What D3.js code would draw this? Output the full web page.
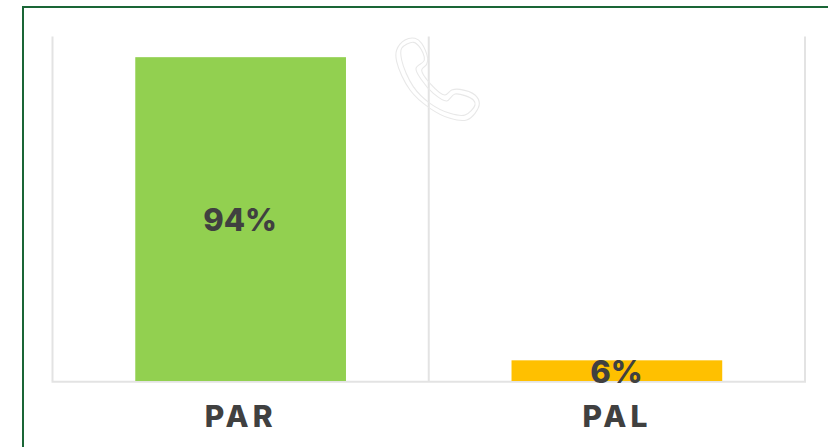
<!DOCTYPE html>
<html>
<head>
<meta charset="utf-8">
<script src="https://cdnjs.cloudflare.com/ajax/libs/d3/7.8.5/d3.min.js"></script>
<style>
html,body{margin:0;padding:0;background:#fff;overflow:hidden}
svg{display:block}
text{font-family:Inter,"Open Sans",sans-serif;font-weight:800;fill:#404040}
</style>
</head>
<body>
<svg id="c" width="828" height="447"></svg>
<script>
const categories = ["PAR", "PAL"];
const values = [94, 6];
const valueLabels = ["94%", "6%"];
const barColors = ["#92D050", "#FFC000"];
const phoneOuter = [[75,45],[105,40],[125,55],[143,100],[140,118],[125,135],[150,175],[195,210],[215,195],[240,193],[285,210],[298,235],[285,265],[260,285],[210,280],[150,250],[90,195],[50,110],[50,75]];
const phoneInner = [[65,70],[100,52],[118,65],[133,105],[108,130],[125,165],[160,205],[200,228],[225,207],[280,225],[285,240],[255,270],[210,265],[150,235],[100,185],[65,105]];

const svg = d3.select("#c");
// outer frame
svg.append("path").attr("d","M23 447V7H828").attr("fill","none").attr("stroke","#1A6636").attr("stroke-width",2);

const x = d3.scaleBand().domain(categories).range([52.5,805]).paddingInner(0).paddingOuter(0);
const y = d3.scaleLinear().domain([0,100]).range([381,36.5]);
const barW = x.bandwidth()*0.56;

// gridlines at band edges
const edges = [x.range()[0], x(categories[1]), x.range()[1]];
svg.selectAll("line.g").data(edges).join("line").attr("class","g")
  .attr("x1",d=>d).attr("x2",d=>d).attr("y1",y(100)).attr("y2",y(0))
  .attr("stroke","#E3E3E3").attr("stroke-width",2);

// phone icon
const iconX = d3.scaleLinear().domain([0,3]).range([380,381]);
const iconY = d3.scaleLinear().domain([0,3]).range([25,26]);
const iconLine = d3.line().x(d=>iconX(d[0])).y(d=>iconY(d[1])).curve(d3.curveCatmullRomClosed.alpha(0.5));
svg.selectAll("path.icon").data([phoneOuter,phoneInner]).join("path").attr("class","icon")
  .attr("d",iconLine).attr("fill","none").attr("stroke","#E8E8E8").attr("stroke-width",1.1);

// baseline
svg.append("line").attr("x1",x.range()[0]-1).attr("x2",x.range()[1]+1).attr("y1",y(0)+0.8).attr("y2",y(0)+0.8)
  .attr("stroke","#E3E3E3").attr("stroke-width",2);

// bars
svg.selectAll("rect.b").data(values).join("rect").attr("class","b")
  .attr("x",(d,i)=>x(categories[i])+x.bandwidth()/2-barW/2)
  .attr("width",barW)
  .attr("y",d=>y(d)).attr("height",d=>y(0)-y(d))
  .attr("fill",(d,i)=>barColors[i]);

// value labels
svg.selectAll("text.v").data(values).join("text").attr("class","v")
  .attr("x",(d,i)=>x(categories[i])+x.bandwidth()/2-0.5)
  .attr("y",d=>(y(d)+y(0))/2+12)
  .attr("text-anchor","middle").attr("font-size",31).text((d,i)=>valueLabels[i]);

// category labels
svg.selectAll("text.c").data(categories).join("text").attr("class","c")
  .attr("x",d=>x(d)+x.bandwidth()/2)
  .attr("y",427)
  .attr("text-anchor","middle").attr("font-size",30).attr("letter-spacing",4).text(d=>d);
</script>
</body>
</html>
